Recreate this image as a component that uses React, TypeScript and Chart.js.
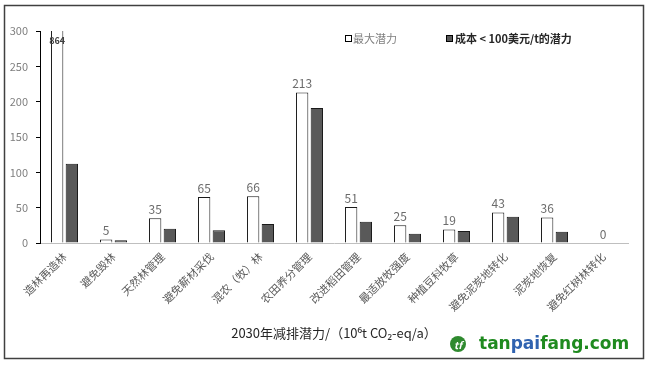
import React, { useEffect, useRef } from "react";
import { Chart, registerables } from "chart.js";

Chart.register(...registerables);

const categories = [
  "造林再造林",
  "避免毁林",
  "天然林管理",
  "避免薪材采伐",
  "混农（牧）林",
  "农田养分管理",
  "改进稻田管理",
  "最适放牧强度",
  "种植豆科牧草",
  "避免泥炭地转化",
  "泥炭地恢复",
  "避免红树林转化",
];
const maxPotential = [864, 5, 35, 65, 66, 213, 51, 25, 19, 43, 36, 0];
const lowCostPotential = [112, 4, 20, 18, 27, 191, 30, 13, 17, 37, 16, 0];
const yTicks = [0, 50, 100, 150, 200, 250, 300];
const seriesNames = ["最大潜力", "成本 < 100美元/t的潜力"];
const axisTitle = "2030年减排潜力/（10⁶t CO₂-eq/a）";

const FONT = "'Noto Sans CJK SC', 'Noto Sans', sans-serif";

const decorPlugin = {
  id: "decor",
  afterDatasetsDraw(chart: any) {
    const ctx = chart.ctx;
    const yScale = chart.scales.y;
    const meta = chart.getDatasetMeta(0);
    ctx.save();
    meta.data.forEach((el: any, i: number) => {
      const v = maxPotential[i];
      ctx.textAlign = "center";
      if (v > yScale.max) {
        ctx.font = `bold 9px ${FONT}`;
        ctx.fillStyle = "#404040";
        ctx.textBaseline = "middle";
        ctx.fillText(String(v), el.x, chart.chartArea.top + 10);
      } else {
        ctx.font = `12px ${FONT}`;
        ctx.fillStyle = "#6b6b6b";
        ctx.textBaseline = "bottom";
        ctx.fillText(String(v), el.x + (v === 0 ? 7 : 0), el.y - 3);
      }
    });
    ctx.restore();
  },
  afterDraw(chart: any) {
    const ctx = chart.ctx;
    ctx.save();
    // legend
    ctx.textBaseline = "middle";
    ctx.textAlign = "left";
    ctx.lineWidth = 1;
    ctx.strokeStyle = "#000";
    ctx.fillStyle = "#fff";
    ctx.fillRect(345.5, 35.5, 6, 6);
    ctx.strokeRect(345.5, 35.5, 6, 6);
    ctx.font = `11px ${FONT}`;
    ctx.fillStyle = "#7f7f7f";
    ctx.fillText(seriesNames[0], 353, 39);
    ctx.fillStyle = "#595959";
    ctx.fillRect(446.5, 35.5, 6, 6);
    ctx.strokeRect(446.5, 35.5, 6, 6);
    ctx.font = `bold 11px ${FONT}`;
    ctx.fillStyle = "#262626";
    ctx.fillText(seriesNames[1], 455, 39);
    // axis title
    ctx.font = `13px ${FONT}`;
    ctx.fillStyle = "#262626";
    ctx.textAlign = "center";
    ctx.fillText(axisTitle, 334, 333);
    // frame
    ctx.strokeStyle = "#404040";
    ctx.lineWidth = 1.5;
    ctx.strokeRect(4.5, 5.5, 639, 353);
    // watermark
    ctx.fillStyle = "#2f8a2f";
    ctx.beginPath();
    ctx.arc(458, 344, 8, 0, Math.PI * 2);
    ctx.fill();
    ctx.fillStyle = "#fff";
    ctx.font = `bold italic 10px ${FONT}`;
    ctx.fillText("tf", 458, 345);
    ctx.textAlign = "left";
    ctx.font = `bold 17px 'DejaVu Sans', sans-serif`;
    let x = 479;
    const parts: [string, string][] = [
      ["tan", "#1f8a1f"],
      ["pai", "#2f62b0"],
      ["fang.com", "#1f8a1f"],
    ];
    parts.forEach(([t, c]) => {
      ctx.fillStyle = c;
      ctx.fillText(t, x, 345);
      x += ctx.measureText(t).width;
    });
    ctx.restore();
  },
};

export default function App() {
  const ref = useRef<HTMLCanvasElement | null>(null);
  useEffect(() => {
    if (!ref.current) return;
    const chart = new Chart(ref.current, {
      type: "bar",
      data: {
        labels: categories,
        datasets: [
          {
            label: seriesNames[0],
            data: maxPotential,
            backgroundColor: "#ffffff",
            borderColor: "#1a1a1a",
            borderWidth: 1,
            categoryPercentage: 0.6,
            barPercentage: 0.84,
          },
          {
            label: seriesNames[1],
            data: lowCostPotential,
            backgroundColor: "#595959",
            borderColor: "#1a1a1a",
            borderWidth: 1,
            categoryPercentage: 0.6,
            barPercentage: 0.84,
          },
        ],
      },
      options: {
        responsive: false,
        animation: false,
        layout: { padding: { top: 31, right: 20, left: 0, bottom: 0 } },
        plugins: { legend: { display: false }, tooltip: { enabled: false } },
        scales: {
          x: {
            grid: { display: false, drawTicks: false },
            border: { display: true, color: "#bfbfbf", width: 1 },
            ticks: {
              minRotation: 45,
              maxRotation: 45,
              autoSkip: false,
              padding: 7,
              color: "#595959",
              font: { size: 11, family: FONT },
            },
            afterFit(scale: any) {
              scale.height = 122;
            },
          },
          y: {
            min: 0,
            max: 300,
            afterBuildTicks(scale: any) {
              scale.ticks = yTicks.map((v) => ({ value: v }));
            },
            grid: { display: true, drawOnChartArea: false, drawTicks: true, tickLength: 4, color: "#000" },
            border: { display: true, color: "#000", width: 1 },
            ticks: {
              padding: 8,
              color: "#7f7f7f",
              font: { size: 11, family: FONT },
            },
            afterFit(scale: any) {
              scale.width = 40;
            },
          },
        },
      },
      plugins: [decorPlugin],
    });
    return () => chart.destroy();
  }, []);
  return (
    <div style={{ position: "absolute", left: 0, top: 0, width: 648, height: 365, background: "#fff" }}>
      <canvas ref={ref} width={648} height={365} style={{ width: 648, height: 365 }} />
    </div>
  );
}
